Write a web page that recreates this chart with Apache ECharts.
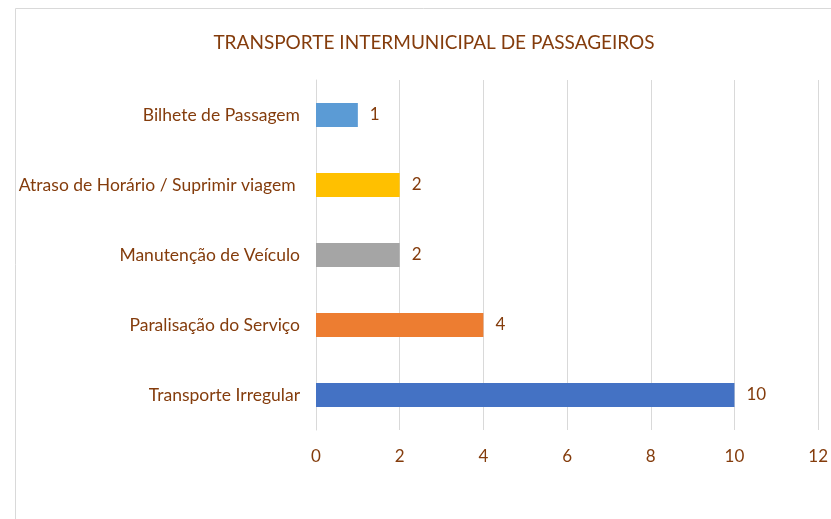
<!DOCTYPE html>
<html>
<head>
<meta charset="utf-8">
<script src="https://cdn.jsdelivr.net/npm/echarts@6/dist/echarts.min.js"></script>
<style>
  html, body { margin: 0; padding: 0; background: #fff; }
  #chart { width: 831px; height: 519px; }
</style>
</head>
<body>
<div id="chart"></div>
<script>
// bottom to top, as the y axis draws them
const categories = ['Transporte Irregular', 'Paralisação do Serviço', 'Manutenção de Veículo', 'Atraso de Horário / Suprimir viagem ', 'Bilhete de Passagem'];
const values = [10, 4, 2, 2, 1];
const barColors = ['#4472C4', '#ED7D31', '#A5A5A5', '#FFC000', '#5B9BD5'];
const xTicks = [0, 2, 4, 6, 8, 10, 12];

const textColor = '#843C0C';
const font = 'Lato, "Open Sans", sans-serif';

const myChart = echarts.init(document.getElementById('chart'));

myChart.setOption({
  animation: false,
  textStyle: { fontFamily: font },
  title: {
    text: 'TRANSPORTE INTERMUNICIPAL DE PASSAGEIROS',
    left: 429,
    top: 28,
    textAlign: 'center',
    textStyle: { color: textColor, fontSize: 19, fontWeight: 'normal', fontFamily: font }
  },
  graphic: [{
    type: 'rect',
    shape: { x: 15.5, y: 8.5, width: 900, height: 600 },
    style: { fill: 'none', stroke: '#d9d9d9', lineWidth: 1 },
    silent: true
  }],
  grid: { left: 316, right: 9, top: 80, bottom: 89 },
  xAxis: {
    type: 'value',
    min: xTicks[0],
    max: xTicks[xTicks.length - 1],
    interval: 2,
    axisLine: { show: false },
    axisTick: { show: false },
    axisLabel: { color: textColor, fontSize: 17, margin: 18, fontFamily: font },
    splitLine: { lineStyle: { color: '#d9d9d9', width: 1 } }
  },
  yAxis: {
    type: 'category',
    data: categories,
    axisLine: { lineStyle: { color: '#d9d9d9' } },
    axisTick: { show: false },
    axisLabel: { color: textColor, fontSize: 17.5, margin: 16, fontFamily: font }
  },
  series: [{
    type: 'bar',
    barWidth: 24,
    data: values.map((v, i) => ({ value: v, itemStyle: { color: barColors[i] } })),
    label: {
      show: true,
      position: 'right',
      distance: 12,
      color: textColor,
      fontSize: 17,
      fontFamily: font
    }
  }]
});
</script>
</body>
</html>
